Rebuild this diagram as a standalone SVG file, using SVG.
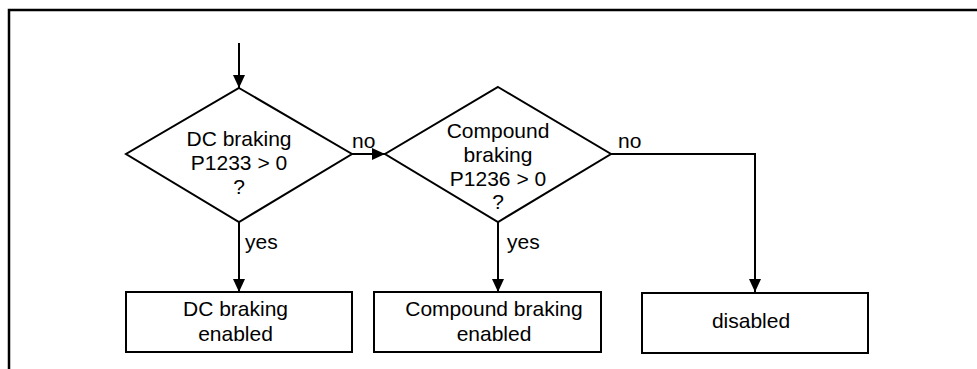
<svg xmlns="http://www.w3.org/2000/svg" width="977" height="369" viewBox="0 0 977 369">
<style>
.shape{fill:#fff;stroke:#000;stroke-width:2}
.conn{fill:none;stroke:#000;stroke-width:2}
.frame{fill:none;stroke:#000;stroke-width:2.5}
text{font-family:"Liberation Sans",Arial,sans-serif;font-size:21px;fill:#000}
.c{text-anchor:middle}
</style>
<defs>
<marker id="arr" viewBox="0 0 13 12" markerWidth="13" markerHeight="12" refX="13" refY="6" orient="auto" markerUnits="userSpaceOnUse">
<path d="M0,0 L13,6 L0,12 z" fill="#000"/>
</marker>
</defs>
<rect width="977" height="369" fill="#fff"/>
<path class="frame" d="M9,369 L9,10 L977,10"/>
<g id="connectors">
<line class="conn" x1="239" y1="43" x2="239" y2="88" marker-end="url(#arr)"/>
<line class="conn" x1="352" y1="154" x2="385" y2="154" marker-end="url(#arr)"/>
<line class="conn" x1="239" y1="222" x2="239" y2="292" marker-end="url(#arr)"/>
<line class="conn" x1="498" y1="222" x2="498" y2="292" marker-end="url(#arr)"/>
<polyline class="conn" points="611,154 755,154 755,292" marker-end="url(#arr)"/>
<text x="352" y="148">no</text>
<text x="618" y="148">no</text>
<text x="245" y="249">yes</text>
<text x="507" y="249">yes</text>
</g>
<g id="decision1">
<polygon class="shape" points="239,88 352,154 239,222 126,154"/>
<text class="c" x="239" y="146">DC braking</text>
<text class="c" x="239" y="170">P1233 &gt; 0</text>
<text class="c" x="239" y="194">?</text>
</g>
<g id="decision2">
<polygon class="shape" points="498,87 611,154 498,222 385,154"/>
<text class="c" x="498" y="138">Compound</text>
<text class="c" x="498" y="162">braking</text>
<text class="c" x="498" y="186">P1236 &gt; 0</text>
<text class="c" x="498" y="209">?</text>
</g>
<g id="box1">
<rect class="shape" x="126" y="292" width="226" height="60"/>
<text class="c" x="235.5" y="316">DC braking</text>
<text class="c" x="235.5" y="341">enabled</text>
</g>
<g id="box2">
<rect class="shape" x="374" y="292" width="227" height="60"/>
<text class="c" x="494" y="316">Compound braking</text>
<text class="c" x="494" y="341">enabled</text>
</g>
<g id="box3">
<rect class="shape" x="642" y="293" width="226" height="60"/>
<text class="c" x="751" y="328">disabled</text>
</g>
</svg>
